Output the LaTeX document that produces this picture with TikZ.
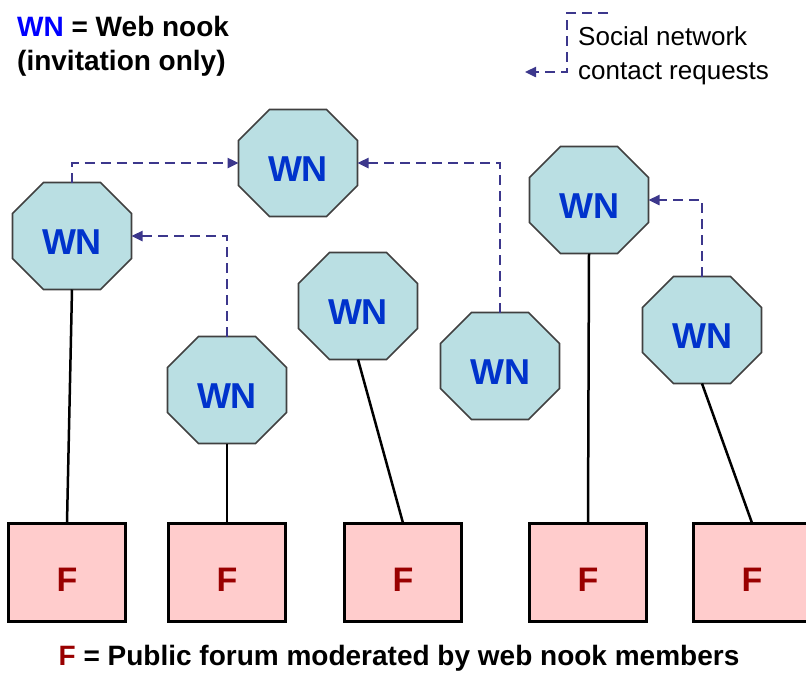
\documentclass[tikz,border=0pt]{standalone}
\usepackage{fontspec}
\setmainfont{Liberation Sans}
\usetikzlibrary{arrows.meta,backgrounds,calc}
\definecolor{octfill}{RGB}{186,223,227}
\definecolor{octline}{RGB}{64,64,64}
\definecolor{wnblue}{RGB}{0,51,204}
\definecolor{legblue}{RGB}{0,0,255}
\definecolor{dashcol}{RGB}{60,55,140}
\definecolor{boxfill}{RGB}{255,204,204}
\definecolor{fred}{RGB}{153,0,0}
\begin{document}
\begin{tikzpicture}[x=1pt,y=-1pt,
  wn/.style={rectangle, inner sep=0pt, outer sep=0pt, minimum width=119pt, minimum height=107pt,
    font=\fontsize{36}{36}\selectfont\bfseries, text=wnblue, text height=37pt, text depth=0pt},
  octo/.style={fill=octfill, draw=octline, line width=1.6pt, line join=miter},
  forum/.style={rectangle, draw=black, line width=3pt, fill=boxfill, minimum width=117pt,
    minimum height=98pt, inner sep=0pt, outer sep=0pt,
    font=\fontsize{34}{34}\selectfont\bfseries, text=fred, text height=38pt, text depth=0pt},
  req/.style={draw=dashcol, line width=2.4pt, dash pattern=on 10pt off 6pt,
    -{Triangle[length=11pt,width=10pt]}},
  link/.style={draw=black, line width=2.5pt},
  boldleg/.style={anchor=base west, inner sep=0pt, font=\fontsize{28}{28}\selectfont\bfseries},
  plainleg/.style={anchor=base west, inner sep=0pt, font=\fontsize{26}{26}\selectfont}]
\useasboundingbox (0,0) rectangle (806,673);

% web nooks
\node[wn] (w1) at (72,236) {WN};
\node[wn] (w2) at (298,163) {WN};
\node[wn] (w3) at (227,390) {WN};
\node[wn] (w4) at (358,306) {WN};
\node[wn] (w5) at (500,366) {WN};
\node[wn] (w6) at (589,200) {WN};
\node[wn] (w7) at (702,330) {WN};

\begin{scope}[on background layer]
\foreach \n in {w1,w2,w3,w4,w5,w6,w7}{
  \path[octo] ($(\n.north west)+(31,0)$) -- ($(\n.north east)+(-31,0)$)
    -- ($(\n.north east)+(0,31)$) -- ($(\n.south east)+(0,-31)$)
    -- ($(\n.south east)+(-31,0)$) -- ($(\n.south west)+(31,0)$)
    -- ($(\n.south west)+(0,-31)$) -- ($(\n.north west)+(0,31)$) -- cycle;
}
\end{scope}

% forums
\node[forum] (f1) at (67,572) {F};
\node[forum] (f2) at (227,572) {F};
\node[forum] (f3) at (403,572) {F};
\node[forum] (f4) at (588,572) {F};
\node[forum] (f5) at (752,572) {F};

% links
\draw[link] (w1.south) -- (f1.north);
\draw[link] (w3.south) -- (f2.north);
\draw[link] (w4.south) -- (f3.north);
\draw[link] (w6.south) -- (f4.north);
\draw[link] (w7.south) -- (f5.north);

% contact requests
\draw[req] (w1.north) |- (w2.west);
\draw[req] (w5.north) |- (w2.east);
\draw[req] (w3.north) |- (w1.east);
\draw[req] (w7.north) |- (w6.east);

% legends
\node[boldleg] (leg1) at (17,36) {\textcolor{legblue}{WN} = Web nook};
\node[boldleg] (leg2) at (17,70) {(invitation only)};

\coordinate (lgA) at (608,13);
\coordinate (lgB) at (567,13);
\coordinate (lgC) at (567,72);
\coordinate (lgD) at (525,72);
\draw[req] (lgA) -- (lgB) -- (lgC) -- (lgD);
\node[plainleg] (leg3) at (578,45) {Social network};
\node[plainleg] (leg4) at (578,79) {contact requests};

\node[anchor=base, inner sep=0pt, font=\fontsize{28}{28}\selectfont\bfseries] (leg5) at (399,665)
  {\textcolor{fred}{F} = Public forum moderated by web nook members};
\end{tikzpicture}
\end{document}
